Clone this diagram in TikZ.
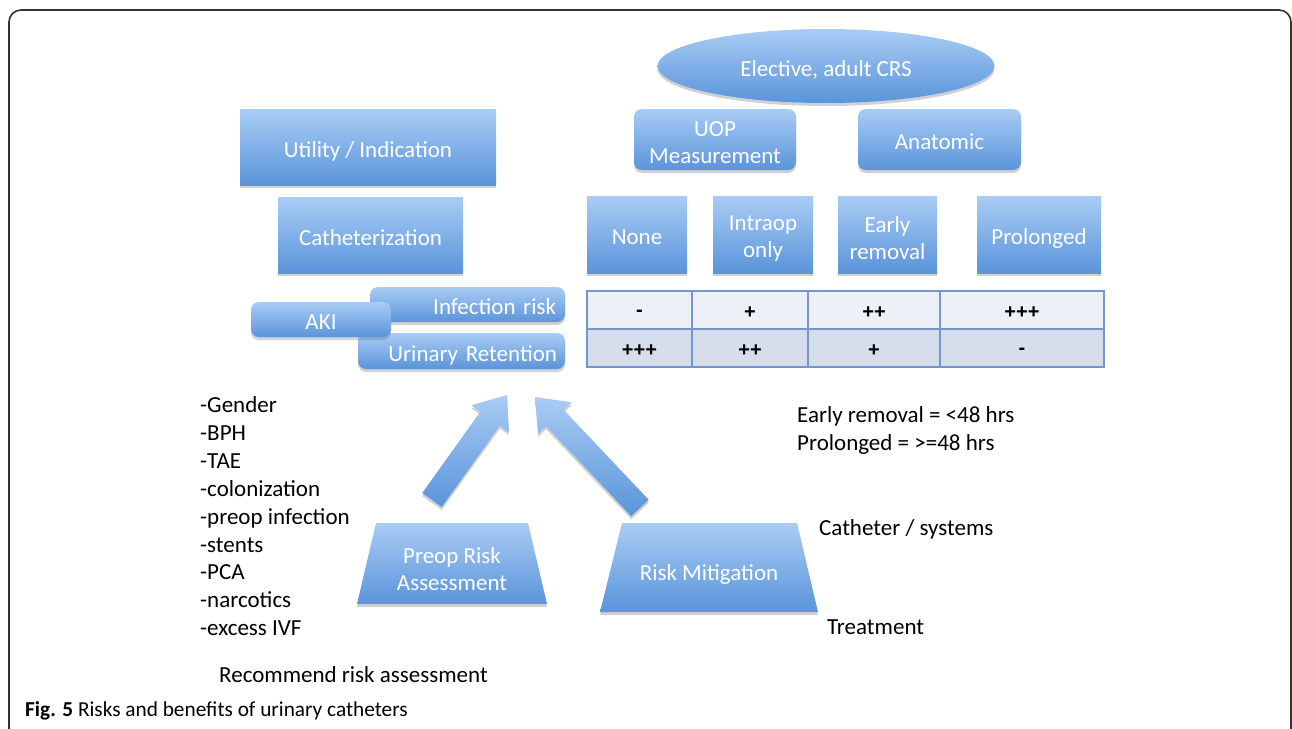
\documentclass[tikz,border=0pt]{standalone}
\usepackage{fontspec}
\setmainfont{Carlito}
\newfontfamily\cellfont{Liberation Sans}
\usetikzlibrary{calc,shadows,shapes.geometric}
\definecolor{btop}{HTML}{A9CCF4}
\definecolor{bbot}{HTML}{5A94DA}
\definecolor{tline}{HTML}{7396CC}
\definecolor{rowa}{HTML}{EDF0F7}
\definecolor{rowb}{HTML}{D6DDEB}
\definecolor{frame}{HTML}{333333}
\newcommand\blockarrow[2]{%
  \coordinate (#1h) at ($(#2)!29pt!(#1)$);
  \path[bluefill]
    ($(#1)!12pt!90:(#2)$) -- ($(#1h)!12pt!90:(#2)$) -- ($(#1h)!23pt!90:(#2)$) --
    (#2) -- ($(#1h)!23pt!-90:(#2)$) -- ($(#1h)!12pt!-90:(#2)$) --
    ($(#1)!12pt!-90:(#2)$) -- cycle;}
\begin{document}
\begin{tikzpicture}[x=1pt,y=-1pt,
  every node/.style={font=\fontsize{23}{27}\selectfont, inner sep=0pt},
  bluefill/.style={top color=btop, bottom color=bbot,
     drop shadow={shadow xshift=0pt, shadow yshift=-3pt, opacity=0.3, fill=black!60}},
  bluebox/.style={bluefill, draw=none, text=white, align=center, text height=20pt, text depth=0pt},
  sqbox/.style={bluebox, rectangle},
  rbox/.style={bluebox, rectangle, rounded corners=8pt},
  btext/.style={text=white, align=center, yshift=-3.5pt},
  lbl/.style={text=black, anchor=base west},
  cell/.style={font=\fontsize{20}{24}\cellfont\bfseries, text=black, yshift=-3pt},
  grid/.style={draw=tline, line width=1.2pt}
]
\useasboundingbox (0,0) rectangle (1292,728);
% frame
\draw[frame, line width=1.6pt, rounded corners=12pt] (9,780) -- (9,10) -- (1291,10) -- (1291,780);

% left column boxes
\node[sqbox, minimum width=256, minimum height=76] (util) at (368,147) {Utility / Indication};
\node[sqbox, minimum width=185, minimum height=76] (cath) at (370.5,235) {Catheterization};
\node[rbox, minimum width=195, minimum height=35, text width=177, align=right] (infect) at (467.5,304.5) {Infection risk};
\node[rbox, minimum width=207, minimum height=36, text width=191, align=right] (uret) at (461.5,351) {Urinary Retention};
\node[rbox, minimum width=140, minimum height=35] (aki) at (321,319.5) {AKI};

% right column
\node[bluebox, ellipse, minimum width=337, minimum height=74] (crs) at (826,66) {Elective, adult CRS};
\node[rbox, minimum width=162, minimum height=61, label={[btext]center:{UOP\\Measurement}}] (uop) at (715,139.5) {};
\node[rbox, minimum width=163, minimum height=61] (anat) at (939.5,139.5) {Anatomic};
\node[sqbox, minimum width=100, minimum height=77] (none) at (637,234.5) {None};
\node[sqbox, minimum width=100, minimum height=77, label={[btext]center:{Intraop\\only}}] (intra) at (763,234.5) {};
\node[sqbox, minimum width=99, minimum height=77, label={[btext]center:{Early\\removal}}] (early) at (887.5,234.5) {};
\node[sqbox, minimum width=124, minimum height=77] (prol) at (1039,234.5) {Prolonged};

% table
\fill[rowa] (587,291) rectangle (1104,329);
\fill[rowb] (587,329) rectangle (1104,367);
\draw[grid] (587,291) rectangle (1104,367);
\draw[grid] (587,329) -- (1104,329);
\foreach \xx in {692,808,940} \draw[grid] (\xx,291) -- (\xx,367);
\node[cell] (t11) at (639.5,310) {-};
\node[cell] (t12) at (750,310) {+};
\node[cell] (t13) at (874,310) {++};
\node[cell] (t14) at (1022,310) {+++};
\node[cell] (t21) at (639.5,348) {+++};
\node[cell] (t22) at (750,348) {++};
\node[cell] (t23) at (874,348) {+};
\node[cell] (t24) at (1022,348) {-};

% notes
\node[lbl] (n1) at (797,422) {Early removal = <48 hrs};
\node[lbl] (n2) at (797,450) {Prolonged = >=48 hrs};

% risk factor list
\foreach \t [count=\i] in {-Gender,-BPH,-TAE,-colonization,-preop infection,-stents,-PCA,-narcotics,-excess IVF}
  \node[lbl] (rf\i) at ({200},{412.5+27.9*(\i-1)}) {\t};

% trapezoids
\path[bluefill] (357,604) -- (376,523) -- (528,523) -- (547,604) -- cycle;
\node[text=white, align=center] (preop) at (452,569.5) {Preop Risk\\Assessment};
\path[bluefill] (600,612) -- (622,523) -- (797,523) -- (818,612) -- cycle;
\node[text=white] (mitig) at (709,574.5) {Risk Mitigation};

% block arrows
\coordinate (la) at (432,500);
\coordinate (lb) at (507,395);
\coordinate (ra) at (640,508);
\coordinate (rb) at (535,397);
\blockarrow{la}{lb}
\blockarrow{ra}{rb}

\node[lbl] (cathsys) at (819,535) {Catheter / systems};
\node[lbl] (treat) at (827,634) {Treatment};
\node[lbl] (recom) at (219,682) {Recommend risk assessment};

% caption
\node[lbl, font=\fontsize{21.3}{25}\selectfont] (cap) at (25,716) {\textbf{Fig. 5} Risks and benefits of urinary catheters};
\end{tikzpicture}
\end{document}
